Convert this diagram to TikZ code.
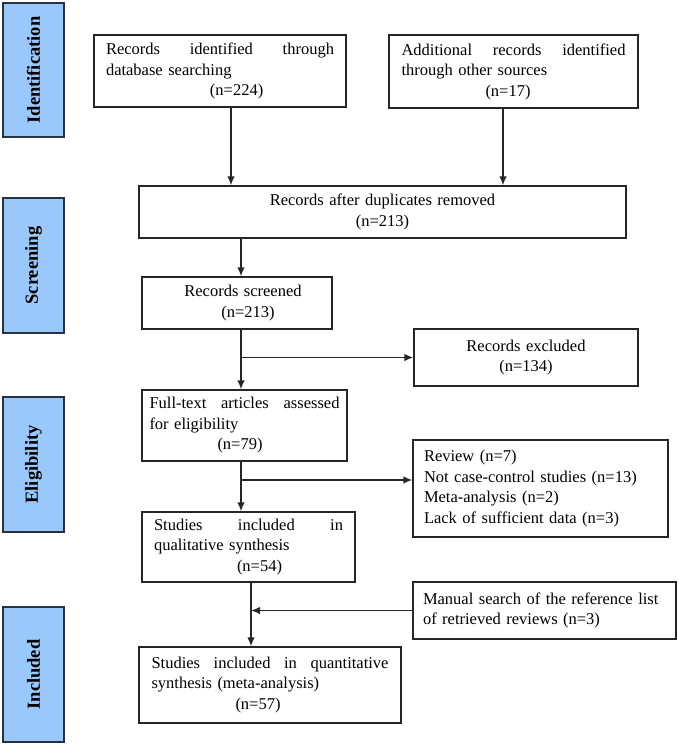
\documentclass[tikz,border=0pt]{standalone}
\usepackage{fontspec}
\setmainfont{Liberation Serif}
\usepackage{tikz}
\usetikzlibrary{arrows.meta}
\definecolor{phaseblue}{RGB}{155,200,250}
\definecolor{phaseline}{RGB}{40,50,62}
\tikzset{
  stagebox/.style={draw=black!85,line width=1.3pt,inner ysep=0pt,inner xsep=12pt,align=left,font=\fontsize{16.5}{20.5}\selectfont},
  phasebar/.style={draw=phaseline,fill=phaseblue,line width=1.4pt,rotate=90,minimum width=135pt,minimum height=61pt,inner sep=0pt,font=\fontsize{18.5}{20}\selectfont\bfseries},
  arr/.style={line width=1.5pt,draw=black!85,-{Latex[length=9pt,width=7.5pt]}}
}
% first line of a box, spread over the full width (words split by \hfill)
\newcommand{\spreadline}[2]{\hbox to #1{#2}}

\begin{document}
\begin{tikzpicture}[x=1pt,y=-1pt]
    \useasboundingbox (0,0) rectangle (678,745);
    % phases
    \node[phasebar,minimum width=134pt] (ident) at (33.5,70) {Identification};
    \node[phasebar] (screen) at (33.5,265.5) {Screening};
    \node[phasebar] (elig) at (33.5,464.5) {Eligibility};
    \node[phasebar] (incl) at (33.5,674.5) {Included};
    % main column
    \node[stagebox,text width=228pt,minimum height=72pt] (dbsearch) at (220,71) {\spreadline{228pt}{Records\hfill identified\hfill through}\\database searching\\\hspace*{104pt}(n=224)};
    \node[stagebox,text width=224pt,inner xsep=12.5pt,minimum height=73pt] (othersrc) at (513.5,71.5) {\spreadline{224pt}{Additional\hfill records\hfill identified}\\through other sources\\\hspace*{84pt}(n=17)};
    \node[stagebox,align=center,text width=463pt,minimum height=52pt] (dedup) at (382.5,212) {Records after duplicates removed\\(n=213)};
    \node[stagebox,align=center,text width=166pt,minimum height=52pt] (screened) at (237,303) {\hspace*{12pt}Records screened\\\hspace*{22pt}(n=213)};
    \node[stagebox,text width=190pt,inner xsep=7.5pt,minimum height=71pt] (fulltext) at (244.5,425.5) {\spreadline{190pt}{Full-text\hfill articles\hfill assessed}\\for eligibility\\\hspace*{68pt}(n=79)};
    \node[stagebox,text width=189pt,minimum height=70pt] (qualit) at (248.5,547) {\spreadline{189pt}{Studies\hfill included\hfill in}\\qualitative synthesis\\\hspace*{83pt}(n=54)};
    \node[stagebox,text width=237pt,inner xsep=12.5pt,minimum height=76pt] (quantit) at (270,685) {\spreadline{237pt}{Studies\hfill included\hfill in\hfill quantitative}\\synthesis (meta-analysis)\\\hspace*{84pt}(n=57)};
    % side boxes
    \node[stagebox,align=center,text width=200pt,minimum height=57pt] (excluded) at (526,357.5) {Records excluded\\(n=134)};
    \node[stagebox,text width=233pt,inner xsep=11pt,minimum height=97pt] (reasons) at (540.5,488.5) {Review (n=7)\\Not case-control studies (n=13)\\Meta-analysis (n=2)\\Lack of sufficient data (n=3)};
    \node[stagebox,text width=243pt,inner xsep=10pt,minimum height=57pt] (manual) at (544.5,610.5) {Manual search of the reference list\\of retrieved reviews (n=3)};
    % arrow columns
    \coordinate (colA) at (231,0);
    \coordinate (colB) at (503,0);
    \coordinate (colC) at (241,0);
    \coordinate (colD) at (251,0);
    \coordinate (brB) at (241,480);
    \draw[arr] (dbsearch.south -| colA) -- (dedup.north -| colA);
    \draw[arr] (othersrc.south -| colB) -- (dedup.north -| colB);
    \draw[arr] (dedup.south -| colC) -- (screened.north -| colC);
    \draw[arr] (screened.south -| colC) -- (fulltext.north -| colC);
    \draw[arr] (excluded.west -| colC) -- (excluded.west);
    \draw[arr] (fulltext.south -| colC) -- (qualit.north -| colC);
    \draw[arr] (brB) -- (brB -| reasons.west);
    \draw[arr] (qualit.south -| colD) -- (quantit.north -| colD);
    \draw[arr] (manual.west) -- (manual.west -| colD);
\end{tikzpicture}
\end{document}
